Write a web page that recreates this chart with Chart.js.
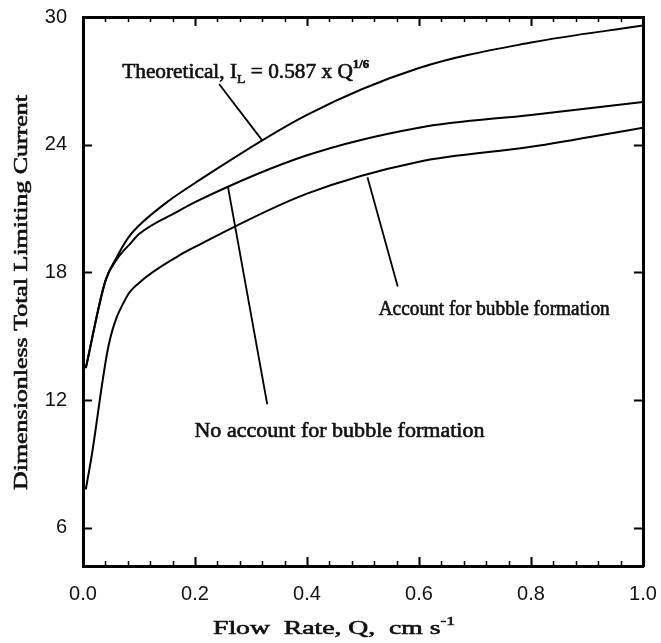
<!DOCTYPE html>
<html>
<head>
<meta charset="utf-8">
<script src="https://cdn.jsdelivr.net/npm/chart.js@4.4.1/dist/chart.umd.min.js"></script>
<style>
  html, body { margin: 0; padding: 0; background: #fff; }
  #wrap { width: 661px; height: 643px; }
</style>
</head>
<body>
<div id="wrap"><canvas id="c" width="661" height="643"></canvas></div>
<script>
// ---- Data ----
const xTickValues = [0, 0.2, 0.4, 0.6, 0.8, 1.0];
const xTickLabels = ['0.0', '0.2', '0.4', '0.6', '0.8', '1.0'];
const yTickValues = [6, 12, 18, 24, 30];
const yTickLabels = ['6', '12', '18', '24', '30'];

// Theoretical, I_L = 0.587 x Q^1/6
const theoFlow    = [0.005, 0.04, 0.06, 0.08, 0.1, 0.15, 0.2, 0.4, 0.6, 0.8, 1.0];
const theoCurrent = [13.5, 17.6, 18.7, 19.6, 20.2, 21.3, 22.2, 25.4, 27.6, 28.8, 29.6];
// No account for bubble formation
const noAccFlow    = [0.005, 0.04, 0.06, 0.086, 0.1, 0.172, 0.2, 0.4, 0.6, 0.8, 1.0];
const noAccCurrent = [13.5, 17.6, 18.6, 19.4, 19.8, 20.9, 21.3, 23.5, 24.8, 25.4, 26.0];
// Account for bubble formation
const accFlow    = [0.005, 0.015, 0.046, 0.077, 0.1, 0.172, 0.2, 0.4, 0.6, 0.8, 1.0];
const accCurrent = [7.8, 9.3, 14.6, 16.8, 17.5, 18.8, 19.2, 21.7, 23.2, 23.9, 24.8];

// Leader lines (annotation pointers), in data units
const leaderTheoFlow = [0.243, 0.320];
const leaderTheoCurrent = [26.85, 24.2];
const leaderNoAccFlow = [0.259, 0.329];
const leaderNoAccCurrent = [22.0, 11.8];
const leaderAccFlow = [0.508, 0.562];
const leaderAccCurrent = [22.47, 17.34];

const xTitle = 'Flow  Rate, Q,  cm s';
const xTitleSup = '-1';
const yTitle = 'Dimensionless Total Limiting Current';

const zip = (xs, ys) => xs.map((x, i) => ({ x: x, y: ys[i] }));

const SERIF = '"Liberation Serif", "Times New Roman", serif';
const SANS = '"Liberation Sans", Arial, sans-serif';

function drawRich(ctx, segs, x, y, targetW) {
  ctx.save();
  let total = 0;
  segs.forEach(s => { ctx.font = s.font; s.w = ctx.measureText(s.t).width; total += s.w; });
  const sx = targetW ? targetW / total : 1;
  ctx.translate(x, y);
  ctx.scale(sx, 1);
  let cx = 0;
  ctx.textBaseline = 'alphabetic';
  ctx.textAlign = 'left';
  ctx.lineWidth = 0.6;
  ctx.strokeStyle = '#111';
  segs.forEach(s => {
    ctx.font = s.font;
    ctx.fillText(s.t, cx, s.dy || 0);
    ctx.strokeText(s.t, cx, s.dy || 0);
    cx += s.w;
  });
  ctx.restore();
}

const decor = {
  id: 'decor',
  afterDraw(chart) {
    const ctx = chart.ctx;
    const xs = chart.scales.x, ys = chart.scales.y;
    const a = chart.chartArea;
    ctx.save();
    ctx.strokeStyle = '#000';
    ctx.fillStyle = '#111';
    // inward tick marks
    ctx.lineWidth = 2;
    ctx.beginPath();
    yTickValues.forEach(v => {
      if (v >= 30) return;
      const py = Math.round(ys.getPixelForValue(v)) + 0.5;
      ctx.moveTo(a.left, py); ctx.lineTo(a.left + 9, py);
      ctx.moveTo(a.right, py); ctx.lineTo(a.right - 9, py);
    });
    xTickValues.forEach(v => {
      if (v <= 0 || v >= 1) return;
      const px = Math.round(xs.getPixelForValue(v)) + 0.5;
      ctx.moveTo(px, a.bottom); ctx.lineTo(px, a.bottom - 9);
      ctx.moveTo(px, a.top); ctx.lineTo(px, a.top + 9);
    });
    ctx.stroke();
    ctx.lineWidth = 1.5;
    ctx.beginPath();
    const minorStep = 0.04;
    for (let k = 1; k < 25; k++) {
      if (k % 5 === 0) continue;
      const px = Math.round(xs.getPixelForValue(k * minorStep)) + 0.5;
      ctx.moveTo(px, a.bottom); ctx.lineTo(px, a.bottom - 5);
      ctx.moveTo(px, a.top); ctx.lineTo(px, a.top + 5);
    }
    ctx.stroke();

    // annotations
    const F = (sz) => sz + 'px ' + SERIF;
    drawRich(ctx, [
      { t: 'Theoretical, I', font: F(20) },
      { t: 'L', font: F(13), dy: 5 },
      { t: ' = 0.587 x Q', font: F(20) },
      { t: '1/6', font: 'bold ' + F(12), dy: -10 }
    ], xs.getPixelForValue(0.070), ys.getPixelForValue(27.12), 247);
    drawRich(ctx, [{ t: 'Account for bubble formation', font: F(20) }],
      xs.getPixelForValue(0.528), ys.getPixelForValue(16.0), 231);
    drawRich(ctx, [{ t: 'No account for bubble formation', font: F(20) }],
      xs.getPixelForValue(0.199), ys.getPixelForValue(10.25), 290);

    // axis titles
    drawRich(ctx, [
      { t: xTitle, font: F(19) },
      { t: xTitleSup, font: F(12), dy: -9 }
    ], 213, 634, 242);
    ctx.save();
    ctx.translate(27, 490);
    ctx.rotate(-Math.PI / 2);
    drawRich(ctx, [{ t: yTitle, font: F(19) }], 0, 0, 395);
    ctx.restore();
    ctx.restore();
  }
};

const curveStyle = {
  borderColor: '#000', borderWidth: 2, pointRadius: 0, fill: false,
  cubicInterpolationMode: 'monotone'
};
const leaderStyle = {
  borderColor: '#000', borderWidth: 1.8, pointRadius: 0, fill: false, tension: 0
};

const noPadH = s => { s.paddingLeft = 0; s.paddingRight = 0; };
const noPadV = s => { s.paddingTop = 0; s.paddingBottom = 0; };

new Chart(document.getElementById('c'), {
  type: 'line',
  data: {
    datasets: [
      Object.assign({ label: 'Theoretical', data: zip(theoFlow, theoCurrent) }, curveStyle),
      Object.assign({ label: 'No account for bubble formation', data: zip(noAccFlow, noAccCurrent) }, curveStyle),
      Object.assign({ label: 'Account for bubble formation', data: zip(accFlow, accCurrent) }, curveStyle),
      Object.assign({ label: 'leader1', data: zip(leaderTheoFlow, leaderTheoCurrent) }, leaderStyle),
      Object.assign({ label: 'leader2', data: zip(leaderNoAccFlow, leaderNoAccCurrent) }, leaderStyle),
      Object.assign({ label: 'leader3', data: zip(leaderAccFlow, leaderAccCurrent) }, leaderStyle)
    ]
  },
  options: {
    responsive: false,
    animation: false,
    devicePixelRatio: 1,
    layout: { padding: 0 },
    plugins: { legend: { display: false }, tooltip: { enabled: false }, title: { display: false } },
    scales: {
      x: {
        type: 'linear', position: 'bottom', min: 0, max: 1,
        afterBuildTicks: s => { s.ticks = xTickValues.map(v => ({ value: v })); },
        afterFit: s => { s.height = 77; noPadH(s); },
        ticks: {
          callback: (v, i) => xTickLabels[i],
          font: { family: SANS, size: 20 }, color: '#111', padding: 16, maxRotation: 0
        },
        grid: { display: false, drawTicks: false },
        border: { display: true, width: 3, color: '#000' }
      },
      x2: {
        type: 'linear', position: 'top', axis: 'x', min: 0, max: 1,
        afterFit: s => { s.height = 17; noPadH(s); },
        ticks: { display: false },
        grid: { display: false, drawTicks: false },
        border: { display: true, width: 3, color: '#000' }
      },
      y: {
        type: 'linear', position: 'left', min: 4.2, max: 30,
        afterBuildTicks: s => { s.ticks = yTickValues.map(v => ({ value: v })); },
        afterFit: s => { s.width = 83; noPadV(s); },
        ticks: {
          callback: (v, i) => yTickLabels[i],
          font: { family: SANS, size: 20 }, color: '#111', padding: 16
        },
        grid: { display: false, drawTicks: false },
        border: { display: true, width: 3, color: '#000' }
      },
      y2: {
        type: 'linear', position: 'right', axis: 'y', min: 4.2, max: 30,
        afterFit: s => { s.width = 18; noPadV(s); },
        ticks: { display: false },
        grid: { display: false, drawTicks: false },
        border: { display: true, width: 3, color: '#000' }
      }
    }
  },
  plugins: [decor]
});
</script>
</body>
</html>
